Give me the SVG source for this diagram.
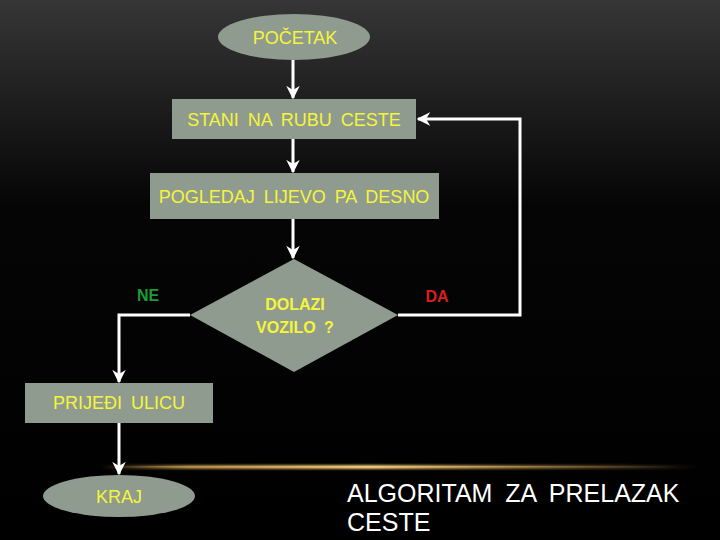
<svg xmlns="http://www.w3.org/2000/svg" width="720" height="540" viewBox="0 0 720 540">
<defs>
<linearGradient id="bg" x1="0" y1="0" x2="0" y2="1">
<stop offset="0" stop-color="#363636"/>
<stop offset="0.38" stop-color="#050505"/>
<stop offset="1" stop-color="#000"/>
</linearGradient>
<radialGradient id="glow" cx="0.5" cy="1" r="0.5">
<stop offset="0" stop-color="#5a5a5a"/>
<stop offset="0.45" stop-color="#2e2e2e" stop-opacity="0.85"/>
<stop offset="1" stop-color="#000" stop-opacity="0"/>
</radialGradient>
<linearGradient id="gold" x1="0" y1="0" x2="1" y2="0">
<stop offset="0" stop-color="#c89a50" stop-opacity="0"/>
<stop offset="0.15" stop-color="#c89a50" stop-opacity="0.8"/>
<stop offset="0.45" stop-color="#f0c878"/>
<stop offset="0.8" stop-color="#c89a50" stop-opacity="0.4"/>
<stop offset="1" stop-color="#c89a50" stop-opacity="0"/>
</linearGradient>
<clipPath id="above"><rect x="0" y="0" width="720" height="467"/></clipPath>
<filter id="blur" x="-10%" y="-200%" width="120%" height="500%"><feGaussianBlur stdDeviation="1"/></filter>
<marker id="arr" viewBox="0 0 10 10" refX="9" refY="5" markerWidth="4.5" markerHeight="4.5" orient="auto" markerUnits="strokeWidth">
<path d="M0,0 L10,5 L0,10 L3,5 z" fill="#fff"/>
</marker>
<style>
.shape{fill:#8f9b8f}
.t{font-family:"Liberation Sans",Arial,sans-serif;font-size:18px;fill:#f5f53a;text-anchor:middle;word-spacing:4px}
.b{font-weight:bold;font-size:16px}
.c{fill:none;stroke:#fff;stroke-width:3}
</style>
</defs>
<rect width="720" height="540" fill="url(#bg)"/>
<ellipse cx="390" cy="467" rx="250" ry="85" fill="url(#glow)" clip-path="url(#above)"/>
<rect x="100" y="465" width="600" height="4" fill="url(#gold)" filter="url(#blur)"/>
<rect x="110" y="466" width="570" height="1.5" fill="url(#gold)"/>

<g id="connectors">
<line class="c" x1="293" y1="60" x2="293" y2="98" marker-end="url(#arr)"/>
<line class="c" x1="293" y1="139" x2="293" y2="172" marker-end="url(#arr)"/>
<line class="c" x1="293" y1="219" x2="293" y2="258" marker-end="url(#arr)"/>
<polyline class="c" points="190,315 119,315 119,382" marker-end="url(#arr)"/>
<polyline class="c" points="398,315 520,315 520,119 418,119" marker-end="url(#arr)"/>
<line class="c" x1="119" y1="423" x2="119" y2="474" marker-end="url(#arr)"/>
</g>

<g id="start">
<ellipse class="shape" cx="294" cy="37" rx="76" ry="23"/>
<text class="t" x="295" y="44">POČETAK</text>
</g>
<g id="stani">
<rect class="shape" x="172" y="99" width="244" height="40"/>
<text class="t" x="294" y="126">STANI NA RUBU CESTE</text>
</g>
<g id="pogledaj">
<rect class="shape" x="150" y="173" width="289" height="46"/>
<text class="t" x="294" y="203">POGLEDAJ LIJEVO PA DESNO</text>
</g>
<g id="decision">
<polygon class="shape" points="294,259 398,315 294,372 190,315"/>
<text class="t b" x="295" y="310">DOLAZI</text>
<text class="t b" x="295" y="333">VOZILO ?</text>
</g>
<g id="labels">
<text class="t b" x="148" y="301" style="fill:#1e9a3c">NE</text>
<text class="t b" x="437" y="302" style="fill:#d81e1e">DA</text>
</g>
<g id="prijedi">
<rect class="shape" x="25" y="383" width="188" height="40"/>
<text class="t" x="119" y="409">PRIJEĐI ULICU</text>
</g>
<g id="kraj">
<ellipse class="shape" cx="119" cy="496" rx="76" ry="21"/>
<text class="t" x="119" y="503">KRAJ</text>
</g>
<g id="title">
<text x="347" y="502" style="font-family:'Liberation Sans',Arial,sans-serif;font-size:25px;fill:#fff;word-spacing:6px">ALGORITAM ZA PRELAZAK</text>
<text x="347" y="531" style="font-family:'Liberation Sans',Arial,sans-serif;font-size:25px;fill:#fff">CESTE</text>
</g>
</svg>
